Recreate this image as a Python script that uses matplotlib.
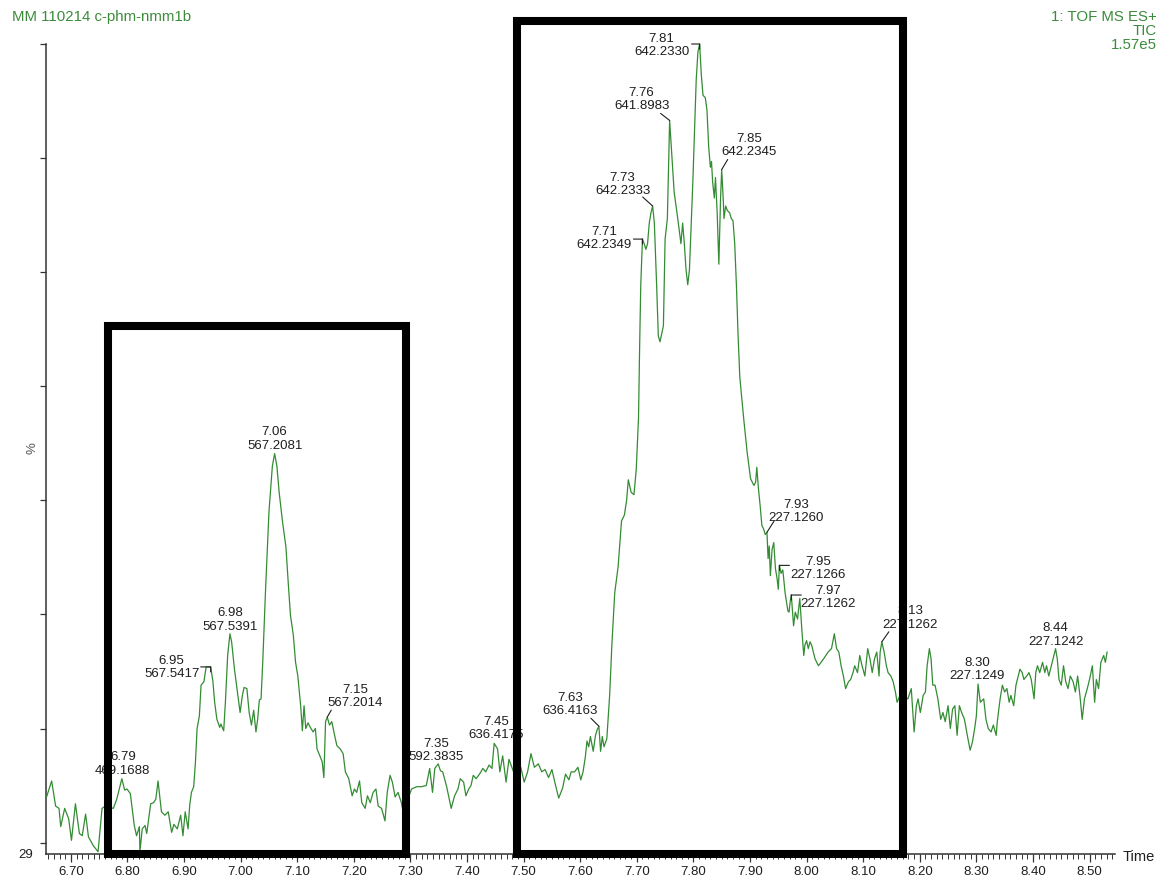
import numpy as np
import matplotlib
matplotlib.use("Agg")
import matplotlib.pyplot as plt
from matplotlib.patches import Rectangle
from matplotlib.ticker import FixedLocator, FormatStrFormatter

plt.rcParams['font.family'] = ['Liberation Sans', 'DejaVu Sans']

# ---- TIC trace: retention time (min) and relative intensity (%) ----
time = [
    6.657, 6.666, 6.673, 6.679, 6.682, 6.689, 6.696, 6.701, 6.708, 6.715,
    6.720, 6.726, 6.731, 6.740, 6.748, 6.755, 6.761, 6.775, 6.781, 6.790,
    6.795, 6.799, 6.805, 6.812, 6.816, 6.821, 6.822, 6.826, 6.831, 6.834,
    6.841, 6.846, 6.850, 6.854, 6.860, 6.866, 6.872, 6.878, 6.882, 6.888,
    6.894, 6.898, 6.902, 6.907, 6.910, 6.913, 6.917, 6.920, 6.923, 6.927,
    6.930, 6.935, 6.939, 6.947, 6.951, 6.954, 6.958, 6.963, 6.965, 6.970,
    6.973, 6.977, 6.981, 6.984, 6.989, 6.995, 6.999, 7.003, 7.006, 7.011,
    7.015, 7.019, 7.023, 7.027, 7.030, 7.033, 7.036, 7.039, 7.044, 7.050,
    7.056, 7.060, 7.064, 7.068, 7.074, 7.080, 7.084, 7.088, 7.093, 7.097,
    7.101, 7.106, 7.109, 7.112, 7.115, 7.119, 7.123, 7.128, 7.132, 7.135,
    7.140, 7.144, 7.147, 7.150, 7.153, 7.157, 7.161, 7.166, 7.170, 7.176,
    7.181, 7.185, 7.191, 7.197, 7.201, 7.205, 7.210, 7.214, 7.220, 7.224,
    7.229, 7.234, 7.239, 7.243, 7.249, 7.255, 7.259, 7.264, 7.268, 7.273,
    7.278, 7.284, 7.287, 7.302, 7.311, 7.319, 7.328, 7.334, 7.339, 7.343,
    7.349, 7.353, 7.357, 7.364, 7.372, 7.378, 7.384, 7.388, 7.394, 7.398,
    7.403, 7.407, 7.411, 7.416, 7.422, 7.428, 7.433, 7.439, 7.444, 7.448,
    7.454, 7.458, 7.463, 7.469, 7.474, 7.489, 7.495, 7.501, 7.507, 7.513,
    7.519, 7.526, 7.532, 7.538, 7.544, 7.550, 7.556, 7.562, 7.569, 7.574,
    7.580, 7.584, 7.590, 7.596, 7.601, 7.605, 7.609, 7.612, 7.615, 7.618,
    7.623, 7.627, 7.630, 7.633, 7.636, 7.639, 7.642, 7.647, 7.652, 7.656,
    7.661, 7.667, 7.673, 7.678, 7.682, 7.685, 7.690, 7.695, 7.699, 7.703,
    7.705, 7.707, 7.710, 7.713, 7.716, 7.719, 7.722, 7.725, 7.728, 7.731,
    7.735, 7.738, 7.741, 7.744, 7.747, 7.750, 7.754, 7.758, 7.762, 7.766,
    7.771, 7.778, 7.781, 7.784, 7.787, 7.790, 7.793, 7.799, 7.805, 7.808,
    7.811, 7.814, 7.817, 7.821, 7.824, 7.827, 7.830, 7.832, 7.834, 7.837,
    7.839, 7.842, 7.845, 7.848, 7.850, 7.853, 7.854, 7.857, 7.860, 7.864,
    7.867, 7.870, 7.873, 7.876, 7.879, 7.882, 7.889, 7.895, 7.901, 7.907,
    7.910, 7.912, 7.915, 7.918, 7.921, 7.924, 7.927, 7.930, 7.932, 7.934,
    7.936, 7.939, 7.942, 7.945, 7.948, 7.950, 7.952, 7.955, 7.958, 7.962,
    7.967, 7.969, 7.971, 7.973, 7.977, 7.980, 7.984, 7.988, 7.992, 7.995,
    7.997, 8.000, 8.003, 8.006, 8.009, 8.015, 8.021, 8.030, 8.038, 8.044,
    8.049, 8.053, 8.057, 8.061, 8.065, 8.069, 8.074, 8.078, 8.082, 8.085,
    8.090, 8.094, 8.098, 8.103, 8.108, 8.112, 8.116, 8.120, 8.124, 8.128,
    8.130, 8.133, 8.137, 8.141, 8.144, 8.149, 8.153, 8.157, 8.160, 8.165,
    8.179, 8.185, 8.190, 8.194, 8.197, 8.201, 8.206, 8.210, 8.213, 8.217,
    8.220, 8.223, 8.227, 8.232, 8.237, 8.241, 8.245, 8.250, 8.254, 8.258,
    8.262, 8.266, 8.270, 8.274, 8.279, 8.284, 8.289, 8.293, 8.297, 8.300,
    8.303, 8.307, 8.313, 8.317, 8.321, 8.326, 8.330, 8.335, 8.337, 8.342,
    8.346, 8.350, 8.354, 8.358, 8.361, 8.366, 8.370, 8.374, 8.377, 8.381,
    8.384, 8.389, 8.393, 8.397, 8.402, 8.405, 8.408, 8.412, 8.417, 8.421,
    8.424, 8.428, 8.432, 8.437, 8.440, 8.443, 8.446, 8.450, 8.454, 8.458,
    8.462, 8.466, 8.471, 8.475, 8.479, 8.483, 8.487, 8.491, 8.496, 8.500,
    8.505, 8.509, 8.512, 8.516, 8.520, 8.525, 8.528, 8.531,
]
intensity = [
    34.0, 35.4, 33.2, 33.0, 31.4, 33.0, 32.1, 30.2, 33.4, 30.8,
    30.6, 32.5, 30.5, 29.7, 29.2, 33.0, 33.2, 33.0, 33.8, 35.6,
    34.6, 34.7, 34.3, 31.5, 30.6, 31.4, 29.2, 31.2, 31.5, 30.8,
    33.4, 33.5, 33.8, 35.4, 32.7, 32.4, 32.7, 30.9, 31.6, 31.2,
    32.4, 30.6, 32.7, 31.2, 33.3, 34.4, 34.9, 37.0, 40.0, 41.1,
    43.8, 44.1, 45.4, 45.4, 44.1, 42.3, 40.8, 40.1, 40.4, 39.8,
    42.3, 46.4, 48.3, 47.6, 45.2, 42.9, 41.4, 42.9, 43.6, 43.5,
    41.4, 40.3, 41.6, 39.7, 40.8, 42.5, 42.6, 45.8, 52.2, 59.0,
    63.0, 64.1, 63.0, 60.7, 58.1, 55.9, 52.8, 49.9, 48.2, 45.8,
    44.6, 42.0, 39.8, 42.0, 40.0, 40.5, 40.1, 39.7, 40.0, 38.2,
    37.6, 37.1, 35.7, 40.6, 41.0, 40.3, 40.6, 39.4, 38.5, 38.2,
    37.8, 36.2, 35.6, 34.1, 34.7, 34.4, 35.4, 33.5, 33.0, 34.1,
    33.5, 34.4, 34.7, 33.2, 33.0, 31.9, 34.4, 35.9, 35.3, 34.0,
    34.4, 33.5, 32.7, 34.7, 34.9, 34.9, 35.0, 36.5, 34.4, 36.5,
    36.9, 36.3, 36.2, 34.9, 33.0, 34.1, 34.7, 35.6, 35.3, 34.1,
    34.7, 35.0, 35.9, 35.6, 36.0, 36.5, 36.2, 36.8, 36.5, 38.7,
    38.2, 36.2, 37.6, 35.3, 37.3, 35.3, 36.6, 35.3, 36.2, 37.8,
    36.6, 36.9, 36.2, 36.4, 35.7, 36.4, 35.1, 33.9, 34.8, 36.0,
    35.5, 36.2, 36.2, 36.6, 35.5, 36.2, 37.5, 38.9, 38.4, 39.3,
    38.0, 39.4, 39.9, 40.2, 38.0, 39.3, 38.4, 39.1, 42.9, 47.4,
    51.9, 54.2, 58.2, 58.7, 60.0, 61.8, 60.7, 60.5, 62.7, 67.2,
    73.5, 78.9, 82.9, 82.5, 82.0, 82.5, 84.3, 85.2, 85.8, 84.3,
    78.9, 74.4, 73.9, 74.6, 75.3, 82.9, 84.7, 93.3, 90.1, 87.0,
    85.2, 82.5, 84.3, 82.5, 80.2, 78.9, 80.2, 87.9, 96.9, 99.3,
    100.0, 97.3, 95.5, 95.3, 94.2, 91.0, 89.2, 89.7, 87.9, 86.5,
    88.3, 85.2, 80.7, 86.5, 89.0, 86.1, 84.7, 85.8, 85.4, 85.2,
    84.7, 84.5, 82.5, 78.9, 74.4, 70.8, 67.1, 64.2, 61.9, 61.3,
    61.6, 62.9, 61.0, 59.5, 57.8, 57.5, 57.0, 57.2, 54.9, 56.0,
    53.4, 55.7, 56.3, 54.0, 53.1, 52.2, 54.3, 53.6, 53.9, 51.9,
    50.3, 50.2, 51.1, 51.7, 49.0, 50.2, 49.6, 51.4, 48.4, 46.4,
    47.3, 47.7, 47.0, 47.6, 47.3, 46.1, 45.5, 46.1, 46.7, 47.0,
    48.3, 47.0, 46.7, 45.5, 44.6, 43.5, 44.1, 44.3, 44.9, 45.5,
    44.9, 46.4, 45.5, 44.6, 47.0, 46.1, 44.9, 46.1, 46.7, 44.6,
    46.7, 47.6, 46.7, 45.5, 44.9, 44.6, 44.1, 43.2, 42.3, 42.9,
    42.6, 43.5, 39.7, 42.0, 42.6, 41.4, 42.9, 43.2, 45.5, 47.0,
    46.1, 43.8, 43.8, 42.6, 40.8, 41.4, 40.6, 42.0, 40.0, 41.7,
    42.0, 39.4, 42.0, 41.4, 40.8, 39.4, 38.1, 38.8, 40.0, 41.1,
    43.9, 42.3, 42.6, 40.8, 40.0, 39.7, 40.3, 39.4, 40.6, 42.6,
    43.8, 43.2, 43.5, 42.3, 42.9, 42.0, 43.8, 44.6, 45.2, 44.9,
    44.3, 44.6, 44.9, 44.3, 42.6, 44.9, 45.5, 44.9, 45.8, 44.9,
    45.5, 44.6, 45.4, 46.4, 47.0, 46.1, 44.3, 43.8, 45.5, 44.1,
    43.5, 44.6, 44.1, 43.2, 44.6, 42.9, 40.8, 42.6, 43.5, 44.3,
    45.5, 42.3, 44.3, 43.5, 45.8, 46.4, 45.8, 46.7,
]

# ---- labelled peaks: retention time and base-peak m/z ----
peak_times = [6.79, 6.95, 6.98, 7.06, 7.15, 7.35, 7.45, 7.63, 7.71, 7.73,
              7.76, 7.81, 7.85, 7.93, 7.95, 7.97, 8.13, 8.30, 8.44]
peak_mz = ["469.1688", "567.5417", "567.5391", "567.2081", "567.2014",
           "592.3835", "636.4175", "636.4163", "642.2349", "642.2333",
           "641.8983", "642.2330", "642.2345", "227.1260", "227.1266",
           "227.1262", "227.1262", "227.1249", "227.1242"]

# ---- highlighted regions (time range, % range) ----
box_time = [(6.765, 7.292), (7.489, 8.171)]
box_pct = [(29.0, 75.3), (29.0, 102.0)]

x_major = [round(6.70 + 0.1 * i, 2) for i in range(19)]
y_major = [30, 40, 50, 60, 70, 80, 90, 100]

# label placement, in pixels relative to the apex: (dx, dy_up, leader)
# leader: None, ("diag", x0, y0) or ("bracket", x0)
label_layout = [
    (1, 3, None), (-39, -12, ("bracket", -10)), (0, 2, None), (0, 3, None),
    (28, 9, ("diag", 4, 7)), (-2, 2, None), (2, 3, None),
    (-29, 10, ("diag", -8, 8)), (-38, -11, ("bracket", -9)),
    (-30, 10, ("diag", -10, 9)), (-28, 9, ("diag", -9, 7)),
    (-38, -13, ("bracket", -8)), (27, 12, ("diag", 6, 10)),
    (29, 9, ("diag", 7, 11)), (39, -15, ("bracket", 10)),
    (37, -14, ("bracket", 10)), (28, 12, ("diag", 7, 10)),
    (-1, 3, None), (0, 2, None),
]

TRACE = "#338c33"
HEAD = "#3d8a3d"
INK = "#1e1e1e"
PX = 0.72  # points per pixel at 100 dpi

W, H = 1163, 879
fig = plt.figure(figsize=(W / 100, H / 100), dpi=100)
ax = fig.add_axes([46 / W, (H - 855) / H, (1115 - 46) / W, 810 / H])

t = np.array(time)
y = np.array(intensity)
ax.plot(t, y, color=TRACE, lw=0.9, zorder=3)

ax.set_xlim(6.656, 8.545)
ax.set_ylim(29, 100)

for side in ("top", "right"):
    ax.spines[side].set_visible(False)
for side in ("left", "bottom"):
    ax.spines[side].set_color("#333333")
    ax.spines[side].set_linewidth(1.1)

ax.xaxis.set_major_locator(FixedLocator(x_major))
ax.xaxis.set_minor_locator(FixedLocator(np.round(np.arange(6.66, 8.545, 0.01), 2)))
ax.xaxis.set_major_formatter(FormatStrFormatter("%.2f"))
ax.yaxis.set_major_locator(FixedLocator(y_major))
ax.yaxis.set_minor_locator(FixedLocator([]))
ax.tick_params(axis="x", which="major", direction="out", length=6, width=0.9,
               color="#333333", labelsize=9.5, labelcolor=INK, pad=2)
ax.tick_params(axis="x", which="minor", direction="out", length=3.5, width=0.7,
               color="#333333")
ax.tick_params(axis="y", which="major", direction="out", length=4.5, width=0.9,
               color="#333333", labelleft=False)


def apex(tc):
    m = (t >= tc - 0.0055) & (t <= tc + 0.0055)
    i = np.argmax(np.where(m, y, -np.inf))
    return t[i], y[i]


def leader(px, py, x0, y0):
    ax.annotate("", xy=(px, py), xytext=(x0 * PX, y0 * PX),
                textcoords="offset points",
                arrowprops=dict(arrowstyle="-", lw=0.8, color=INK,
                                shrinkA=0, shrinkB=0), zorder=4)


for tc, mz, (dx, dy, lead) in zip(peak_times, peak_mz, label_layout):
    px, py = apex(tc)
    ax.annotate(f"{tc:.2f}\n{mz}", xy=(px, py), xytext=(dx * PX, dy * PX),
                textcoords="offset points", ha="center", va="bottom",
                fontsize=9.5, color=INK, linespacing=1.15, zorder=4)
    if lead is None:
        continue
    if lead[0] == "diag":
        leader(px, py, lead[1], lead[2])
    else:
        leader(px, py, lead[1], 0)
        leader(px, py, 0, -5)

for (x0, x1), (y0, y1) in zip(box_time, box_pct):
    ax.add_patch(Rectangle((x0, y0), x1 - x0, y1 - y0, fill=False,
                           ec="black", lw=5.8, joinstyle="miter",
                           clip_on=False, zorder=6))

# header and axis captions
fig.text(12 / W, 1 - 17 / H, "MM 110214 c-phm-nmm1b", color=HEAD,
         fontsize=10.8, ha="left", va="center")
for k, line in enumerate(["1: TOF MS ES+", "TIC", "1.57e5"]):
    fig.text(1157 / W, 1 - (17 + 14 * k) / H, line, color=HEAD,
             fontsize=10.8, ha="right", va="center")
fig.text(32 / W, 1 - 448 / H, "%", color="#555555", fontsize=9.5,
         rotation=90, ha="center", va="center")
fig.text(26 / W, 1 - 855 / H, "29", color=INK, fontsize=9.5,
         ha="center", va="center")
fig.text(1139 / W, 1 - 857 / H, "Time", color=INK, fontsize=10.5,
         ha="center", va="center")

fig.savefig("out.png", dpi=100, facecolor="white")
